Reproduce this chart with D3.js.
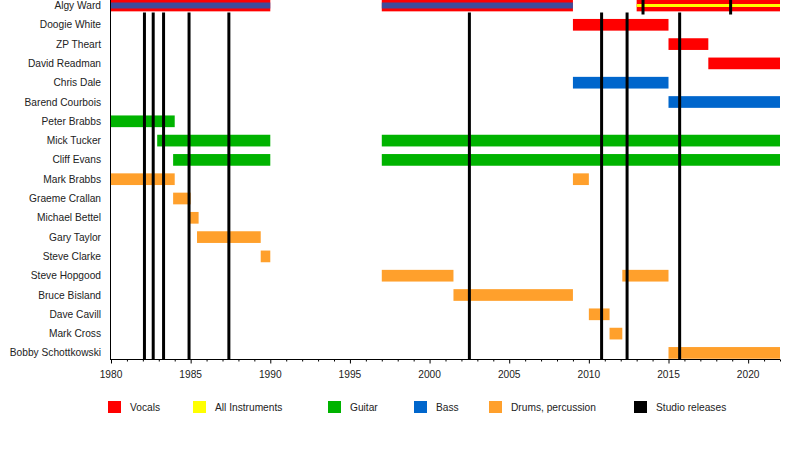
<!DOCTYPE html>
<html>
<head>
<meta charset="utf-8">
<script src="https://cdn.jsdelivr.net/npm/d3@7"></script>
<style>
  body { margin: 0; background: #fff; }
  text { font-family: "Liberation Sans", Arial, sans-serif; }
</style>
</head>
<body>
<div id="chart"></div>
<script>
// Band members, top to bottom
const members = ["Algy Ward", "Doogie White", "ZP Theart", "David Readman", "Chris Dale",
  "Barend Courbois", "Peter Brabbs", "Mick Tucker", "Cliff Evans", "Mark Brabbs",
  "Graeme Crallan", "Michael Bettel", "Gary Taylor", "Steve Clarke", "Steve Hopgood",
  "Bruce Bisland", "Dave Cavill", "Mark Cross", "Bobby Schottkowski"];

// [member, role, from, to]
const stints = [
  ["Algy Ward", "Vocals", 1980, 1990],
  ["Algy Ward", "Vocals", 1997, 2009],
  ["Algy Ward", "Vocals", 2013, 2022],
  ["Doogie White", "Vocals", 2009, 2015],
  ["ZP Theart", "Vocals", 2015, 2017.5],
  ["David Readman", "Vocals", 2017.5, 2022],
  ["Chris Dale", "Bass", 2009, 2015],
  ["Barend Courbois", "Bass", 2015, 2022],
  ["Peter Brabbs", "Guitar", 1980, 1984],
  ["Mick Tucker", "Guitar", 1982.9, 1990],
  ["Mick Tucker", "Guitar", 1997, 2022],
  ["Cliff Evans", "Guitar", 1983.9, 1990],
  ["Cliff Evans", "Guitar", 1997, 2022],
  ["Mark Brabbs", "Drums, percussion", 1980, 1984],
  ["Mark Brabbs", "Drums, percussion", 2009, 2010],
  ["Graeme Crallan", "Drums, percussion", 1983.9, 1985],
  ["Michael Bettel", "Drums, percussion", 1984.9, 1985.5],
  ["Gary Taylor", "Drums, percussion", 1985.4, 1989.4],
  ["Steve Clarke", "Drums, percussion", 1989.4, 1990],
  ["Steve Hopgood", "Drums, percussion", 1997, 2001.5],
  ["Steve Hopgood", "Drums, percussion", 2012.1, 2015],
  ["Bruce Bisland", "Drums, percussion", 2001.5, 2009],
  ["Dave Cavill", "Drums, percussion", 2010, 2011.3],
  ["Mark Cross", "Drums, percussion", 2011.3, 2012.1],
  ["Bobby Schottkowski", "Drums, percussion", 2015, 2022]
];

// secondary roles drawn as thin stripes inside a bar
const innerStints = [
  ["Algy Ward", "Bass", 1980, 1990],
  ["Algy Ward", "Bass", 1997, 2009],
  ["Algy Ward", "All Instruments", 2013, 2022]
];

// studio releases: band-wide, and the ones only on Algy Ward's row
const releases = [1982.1, 1982.65, 1983.3, 1984.9, 1987.4, 2002.5, 2010.8, 2012.4, 2015.7];
const algyReleases = [2013.4, 2018.9];

const roles = ["Vocals", "All Instruments", "Guitar", "Bass", "Drums, percussion", "Studio releases"];
const roleColors = ["#ff0000", "#ffff00", "#00b300", "#0066cc", "#ffa02c", "#000000"];
const legendX = [108, 193, 328, 414, 489, 634];

const width = 800, height = 458;
const color = d3.scaleOrdinal().domain(roles).range(roleColors);

const x = d3.scaleLinear().domain([1980, 2022]).range([111, 780]);
const y = d3.scaleBand().domain(members).range([-0.35, 358.75]).paddingInner(0.394).paddingOuter(0);

const svg = d3.select("#chart").append("svg")
  .attr("width", width)
  .attr("height", height);

// member bars
svg.append("g").selectAll("rect")
  .data(stints)
  .join("rect")
  .attr("x", d => x(d[2]))
  .attr("y", d => y(d[0]))
  .attr("width", d => x(d[3]) - x(d[2]))
  .attr("height", y.bandwidth())
  .attr("fill", d => color(d[1]));

// inner stripes (bass 6px, all instruments 3px)
svg.append("g").selectAll("rect")
  .data(innerStints)
  .join("rect")
  .attr("x", d => x(d[2]))
  .attr("y", d => {
    const h = d[1] === "Bass" ? 6 : 3;
    return y(d[0]) + y.bandwidth() / 2 - h / 2;
  })
  .attr("width", d => x(d[3]) - x(d[2]))
  .attr("height", d => d[1] === "Bass" ? 6 : 3)
  .attr("fill", d => color(d[1]))
  .attr("opacity", d => d[1] === "Bass" ? 0.75 : 1);

// release lines
svg.append("g").selectAll("line")
  .data(releases)
  .join("line")
  .attr("x1", d => x(d)).attr("x2", d => x(d))
  .attr("y1", 12.5).attr("y2", 359.5)
  .attr("stroke", "#000")
  .attr("stroke-width", 3);

svg.append("g").selectAll("line")
  .data(algyReleases)
  .join("line")
  .attr("x1", d => x(d)).attr("x2", d => x(d))
  .attr("y1", 0).attr("y2", 14.5)
  .attr("stroke", "#000")
  .attr("stroke-width", 3);

// member names
svg.append("g").selectAll("text")
  .data(members)
  .join("text")
  .attr("x", 101)
  .attr("y", d => y(d) + y.bandwidth() / 2)
  .attr("dy", "0.35em")
  .attr("text-anchor", "end")
  .style("font-size", "10.2px")
  .attr("fill", "#222")
  .text(d => d);

// left edge
svg.append("line")
  .attr("x1", 110.5).attr("x2", 110.5)
  .attr("y1", 0).attr("y2", 360)
  .attr("stroke", "#000");

// x axis with yearly minor ticks
const xAxis = svg.append("g").attr("transform", "translate(0,359.5)");
xAxis.append("line")
  .attr("x1", 110.5).attr("x2", 780)
  .attr("stroke", "#000");
const years = d3.range(1980, 2023);
xAxis.selectAll(".tick")
  .data(years)
  .join("line")
  .attr("x1", d => x(d) + 0.5).attr("x2", d => x(d) + 0.5)
  .attr("y1", 0).attr("y2", d => d % 5 === 0 ? 4 : 2)
  .attr("stroke", "#000");
xAxis.selectAll("text")
  .data(years.filter(d => d % 5 === 0))
  .join("text")
  .attr("x", d => x(d))
  .attr("y", 15)
  .attr("dy", "0.35em")
  .attr("text-anchor", "middle")
  .style("font-size", "10.2px")
  .attr("fill", "#222")
  .text(d => d);

// legend
const legend = svg.append("g").selectAll("g")
  .data(roles)
  .join("g")
  .attr("transform", (d, i) => `translate(${legendX[i]},401)`);
legend.append("rect")
  .attr("width", 13)
  .attr("height", 12)
  .attr("fill", d => color(d));
legend.append("text")
  .attr("x", 22)
  .attr("y", 6)
  .attr("dy", "0.35em")
  .style("font-size", "10.2px")
  .attr("fill", "#222")
  .text(d => d);
</script>
</body>
</html>
